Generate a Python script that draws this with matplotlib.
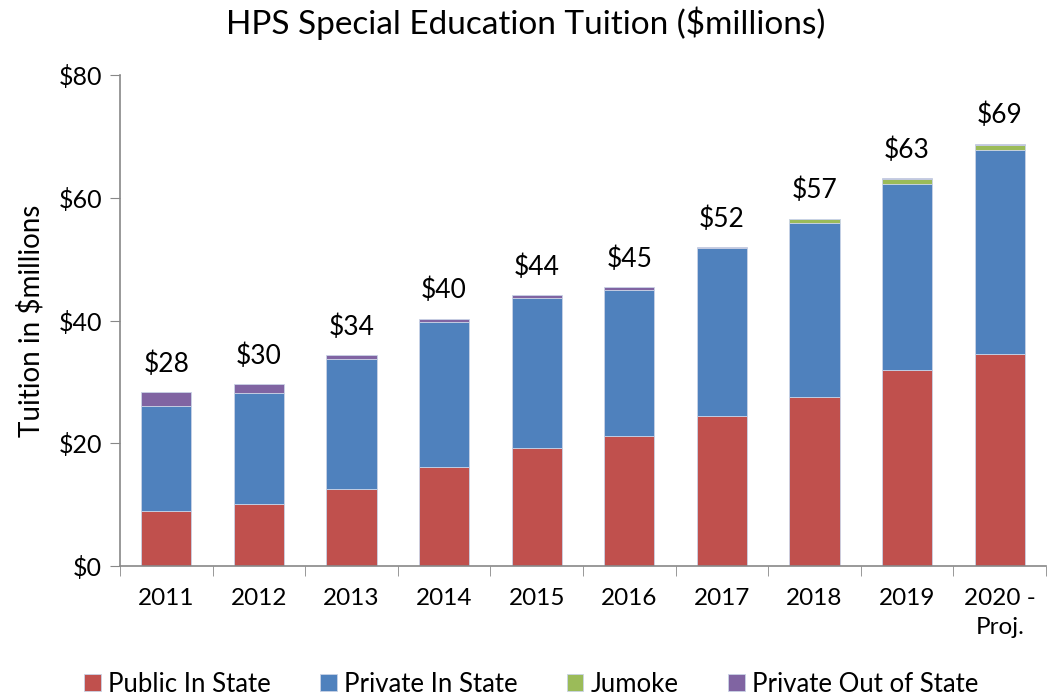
import matplotlib.pyplot as plt
import numpy as np

plt.rcParams['font.family'] = ['Lato', 'DejaVu Sans']

years = ["2011", "2012", "2013", "2014", "2015", "2016", "2017", "2018", "2019", "2020 -\nProj."]
public_in_state = [9.0, 10.1, 12.5, 16.1, 19.2, 21.2, 24.5, 27.5, 31.9, 34.5]
private_in_state = [17.0, 18.1, 21.2, 23.7, 24.4, 23.8, 27.3, 28.4, 30.4, 33.3]
jumoke = [0.0, 0.0, 0.0, 0.0, 0.0, 0.0, 0.0, 0.6, 0.7, 0.8]
private_out_state = [2.3, 1.4, 0.7, 0.5, 0.5, 0.4, 0.2, 0.1, 0.2, 0.2]

series = [
    ("Public In State", public_in_state, "#c0504d"),
    ("Private In State", private_in_state, "#4f81bd"),
    ("Jumoke", jumoke, "#9bbb59"),
    ("Private Out of State", private_out_state, "#8064a2"),
]

fig = plt.figure(figsize=(10.52, 6.99), dpi=100)
ax = fig.add_axes([120 / 1052, 1 - 566 / 699, 926 / 1052, 491 / 699])

x = np.arange(len(years))
bottom = np.zeros(len(years))
for name, vals, color in series:
    ax.bar(x, vals, 0.54, bottom=bottom, color=color, label=name,
           edgecolor="#c9d3e6", linewidth=0.6)
    bottom += np.array(vals)

for xi, total in zip(x, bottom):
    ax.annotate(f"${total:.0f}", (xi, total), xytext=(0, 11), textcoords="offset points",
                ha="center", va="bottom", fontsize=19)

ax.set_xlim(-0.5, len(years) - 0.5)
ax.set_ylim(0, 80)
ax.set_yticks([0, 20, 40, 60, 80])
ax.set_yticklabels(["$0", "$20", "$40", "$60", "$80"], fontsize=18)
ax.set_xticks(x)
ax.set_xticklabels(years, fontsize=17.5, linespacing=1.45)
ax.set_xticks(np.arange(-0.5, len(years), 1), minor=True)
ax.tick_params(axis="x", which="major", length=0, pad=16)
ax.tick_params(axis="x", which="minor", length=7, color="#888888")
ax.tick_params(axis="y", length=7, color="#888888", pad=6)
for s in ["top", "right"]:
    ax.spines[s].set_visible(False)
for s in ["left", "bottom"]:
    ax.spines[s].set_color("#888888")
    ax.spines[s].set_linewidth(1.2)

ax.set_ylabel("Tuition in $millions", fontsize=20, labelpad=10)
fig.suptitle("HPS Special Education Tuition ($millions)", fontsize=24, y=0.99)

fig.legend(loc="lower center", ncol=4, frameon=False, fontsize=18.5,
           bbox_to_anchor=(0.505, -0.03), handlelength=0.65, handleheight=0.65,
           handletextpad=0.3, columnspacing=1.9)

fig.savefig("out.png", dpi=100)
